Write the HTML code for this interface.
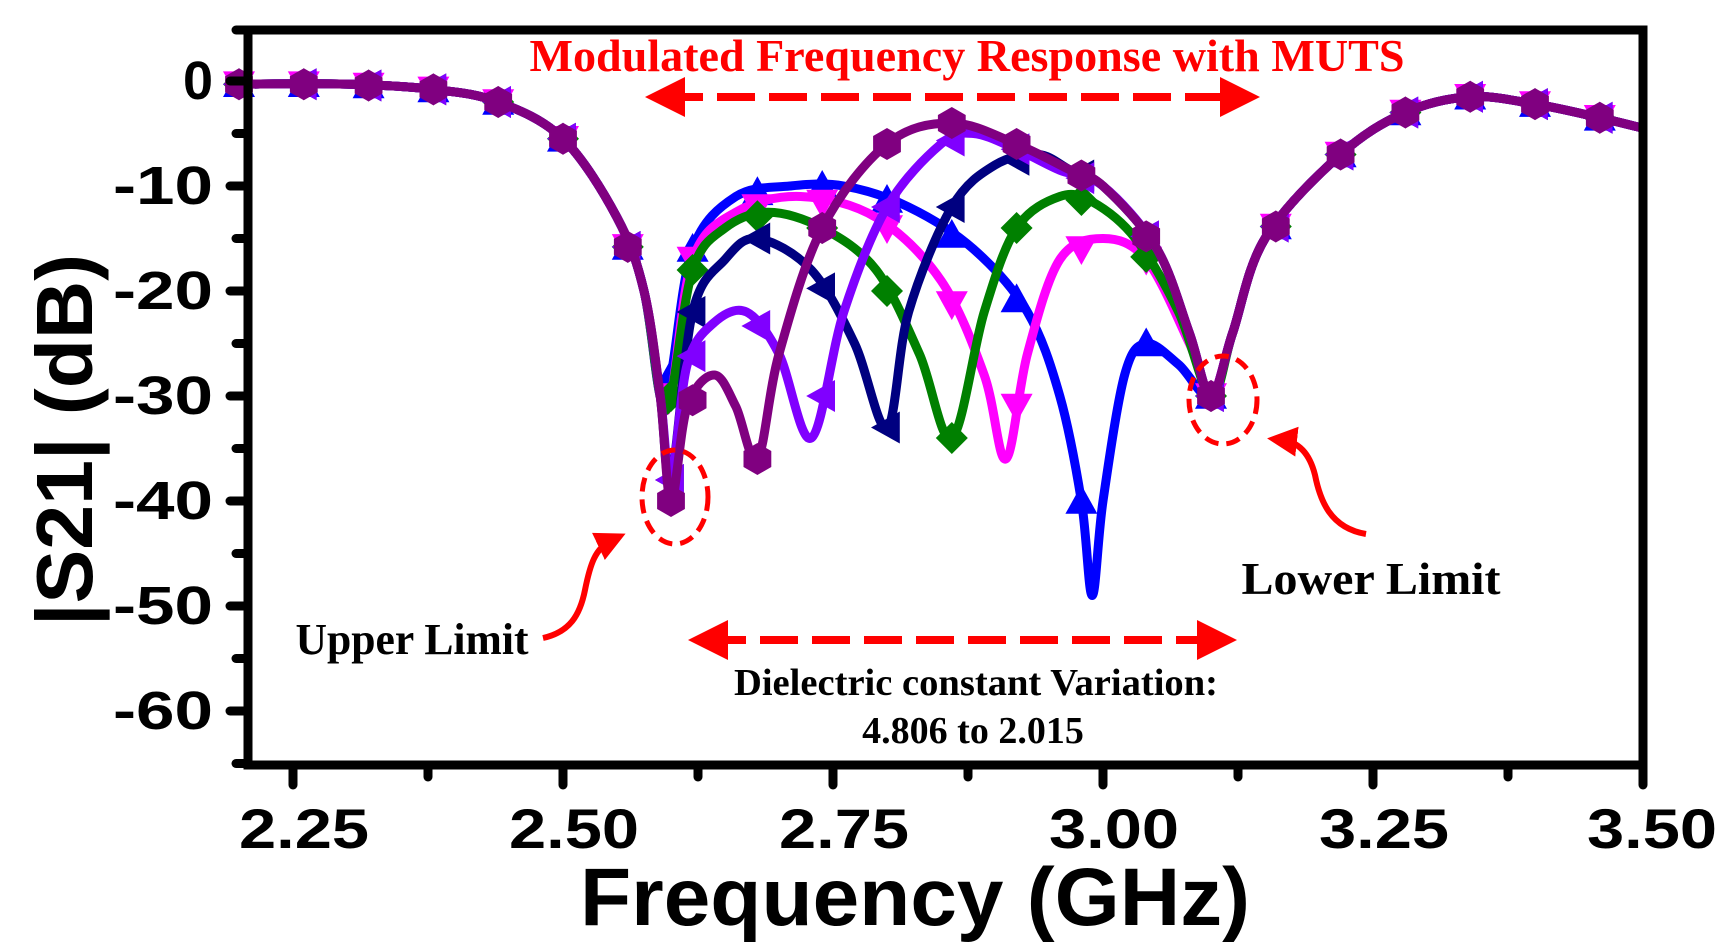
<!DOCTYPE html>
<html><head><meta charset="utf-8"><style>
html,body{margin:0;padding:0;background:#fff}
svg{display:block}
.tk{font-family:"Liberation Sans",Arial,sans-serif;font-weight:bold}
.sr{font-family:"Liberation Serif",serif;font-weight:bold}
</style></head><body>
<svg id="s" width="1735" height="951" viewBox="0 0 1735 951" xmlns="http://www.w3.org/2000/svg">
<defs>
<marker id="ah" viewBox="0 0 10 10" refX="5" refY="5" markerWidth="5" markerHeight="5" orient="auto-start-reverse"><path d="M0,0 L10,5 L0,10 z" fill="#ff0000"/></marker>
</defs>
<g id="curves"></g>
<rect x="248" y="30" width="1395" height="735" fill="none" stroke="#000" stroke-width="9"/>
<g id="ticks" stroke="#000" stroke-width="9" stroke-linecap="round"></g>
<g class="tk" font-size="54" text-anchor="end" fill="#000">
<text x="213" y="99">0</text>
<text x="213" y="204" textLength="100" lengthAdjust="spacingAndGlyphs">-10</text>
<text x="213" y="309" textLength="100" lengthAdjust="spacingAndGlyphs">-20</text>
<text x="213" y="414" textLength="100" lengthAdjust="spacingAndGlyphs">-30</text>
<text x="213" y="519" textLength="100" lengthAdjust="spacingAndGlyphs">-40</text>
<text x="213" y="624" textLength="100" lengthAdjust="spacingAndGlyphs">-50</text>
<text x="213" y="729" textLength="100" lengthAdjust="spacingAndGlyphs">-60</text>
</g>
<g class="tk" font-size="56" text-anchor="middle" fill="#000">
<text x="304" y="848" textLength="130" lengthAdjust="spacingAndGlyphs">2.25</text>
<text x="574" y="848" textLength="130" lengthAdjust="spacingAndGlyphs">2.50</text>
<text x="844" y="848" textLength="130" lengthAdjust="spacingAndGlyphs">2.75</text>
<text x="1114" y="848" textLength="130" lengthAdjust="spacingAndGlyphs">3.00</text>
<text x="1384" y="848" textLength="130" lengthAdjust="spacingAndGlyphs">3.25</text>
<text x="1652" y="848" textLength="130" lengthAdjust="spacingAndGlyphs">3.50</text>
</g>
<text class="tk" x="915" y="925" font-size="82" text-anchor="middle" textLength="670" lengthAdjust="spacingAndGlyphs">Frequency (GHz)</text>
<text class="tk" transform="translate(92,440) rotate(-90)" font-size="80" text-anchor="middle" textLength="372" lengthAdjust="spacingAndGlyphs">|S21| (dB)</text>
<g class="sr" fill="#ff0000" font-size="46" text-anchor="middle"><text x="967" y="71" textLength="875" lengthAdjust="spacingAndGlyphs">Modulated Frequency Response with MUTS</text></g>
<g class="sr" fill="#000" font-size="38" text-anchor="middle">
<text x="976" y="695" textLength="484" lengthAdjust="spacingAndGlyphs">Dielectric constant Variation:</text>
<text x="973" y="743">4.806 to 2.015</text>
<text x="412" y="654" font-size="44" textLength="233" lengthAdjust="spacingAndGlyphs">Upper Limit</text>
<text x="1371" y="594" font-size="46" textLength="259" lengthAdjust="spacingAndGlyphs">Lower Limit</text>
</g>
<g stroke="#ff0000" stroke-width="8" fill="none">
<line x1="665" y1="97" x2="1240" y2="97" stroke-dasharray="38,14" marker-start="url(#ah)" marker-end="url(#ah)"/>
<line x1="708" y1="640" x2="1217" y2="640" stroke-dasharray="38,14" marker-start="url(#ah)" marker-end="url(#ah)"/>
<ellipse cx="675" cy="497" rx="33" ry="47" stroke-width="5" stroke-dasharray="14,8"/>
<ellipse cx="1223" cy="400" rx="34" ry="44" stroke-width="5" stroke-dasharray="14,8"/>
<path d="M543,638 C570,632 580,615 585,590 C590,565 595,548 612,540" stroke-width="6" marker-end="url(#ah)"/>
<path d="M1366,534 C1330,528 1320,500 1315,475 C1310,455 1300,442 1282,440" stroke-width="6" marker-end="url(#ah)"/>
</g>
</svg>
<script>
var X=f=>1643-(3.5-f)*1080, Y=d=>81-d*10.5;
var L=[[2.2,-0.3],[2.3,-0.3],[2.38,-0.8],[2.44,-2],[2.5,-5.5],[2.55,-13],[2.575,-20],[2.59,-30]];
var R=[[3.12,-24],[3.15,-15],[3.22,-7],[3.28,-3],[3.34,-1.5],[3.4,-2.2],[3.46,-3.5],[3.5,-4.5]];
var RC=[[3.0,-10],[3.05,-16],[3.08,-24],[3.1,-30]];
var C=[
["#0000ff","tu",[[2.6,-28],[2.62,-16],[2.66,-11],[2.71,-10],[2.76,-10],[2.82,-12],[2.88,-16],[2.93,-22],[2.96,-30],[2.98,-40],[2.99,-49],[3.0,-40],[3.02,-28],[3.04,-25],[3.07,-27],[3.1,-30]]],
["#ff00ff","td",[[2.6,-30],[2.62,-17],[2.66,-12.5],[2.72,-11],[2.79,-13],[2.85,-19],[2.89,-28],[2.91,-36],[2.93,-26],[2.96,-17],[3.0,-15],[3.04,-17],[3.08,-25],[3.1,-30]]],
["#008000","dm",[[2.6,-30],[2.62,-18],[2.65,-14],[2.69,-12.5],[2.74,-14],[2.79,-18],[2.83,-26],[2.86,-34],[2.89,-22],[2.92,-14],[2.96,-11],[2.99,-11.5],[3.03,-15],[3.07,-22],[3.1,-30]]],
["#000080","tl",[[2.6,-38],[2.62,-22],[2.65,-17],[2.68,-15],[2.73,-18],[2.77,-25],[2.8,-33],[2.82,-22],[2.86,-12],[2.9,-8],[2.94,-7],[2.97,-8.5]].concat(RC)],
["#8000ff","tl",[[2.6,-38],[2.615,-27],[2.64,-23],[2.67,-22],[2.7,-26],[2.73,-34],[2.76,-22],[2.8,-12],[2.85,-6],[2.88,-5],[2.92,-6.5],[2.96,-8.5]].concat(RC)],
["#800080","hx",[[2.6,-40],[2.615,-31],[2.64,-28],[2.66,-31],[2.68,-36],[2.7,-26],[2.74,-14],[2.8,-6],[2.86,-4],[2.92,-6],[2.97,-8.5]].concat(RC)]
];
function path(p){var s="M"+p[0][0]+","+p[0][1];for(var i=0;i<p.length-1;i++){var a=p[i-1]||p[i],b=p[i],c=p[i+1],d=p[i+2]||c;
s+=" C"+(b[0]+(c[0]-a[0])/6)+","+(b[1]+(c[1]-a[1])/6)+" "+(c[0]-(d[0]-b[0])/6)+","+(c[1]-(d[1]-b[1])/6)+" "+c[0]+","+c[1];}return s;}
function mk(t,x,y,col){var r=16;var p;
if(t=="tu")p=[[x,y-r],[x+r,y+r*0.8],[x-r,y+r*0.8]];
else if(t=="td")p=[[x,y+r],[x+r,y-r*0.8],[x-r,y-r*0.8]];
else if(t=="tl")p=[[x-r,y],[x+r*0.8,y-r],[x+r*0.8,y+r]];
else if(t=="dm")p=[[x,y-r],[x+r,y],[x,y+r],[x-r,y]];
else {p=[];for(var k=0;k<6;k++){var a=Math.PI/6+k*Math.PI/3;p.push([x+r*Math.cos(a),y+r*Math.sin(a)]);}}
return '<polygon fill="'+col+'" points="'+p.map(q=>q[0].toFixed(1)+","+q[1].toFixed(1)).join(" ")+'"/>';}
var h="";
var MF=[2.2,2.26,2.32,2.38,2.44,2.5,2.56,2.6];
C.forEach(function(c){var pts=L.concat(c[2]).concat(R).map(q=>[X(q[0]),Y(q[1])]);
h+='<path d="'+path(pts)+'" fill="none" stroke="'+c[0]+'" stroke-width="9" stroke-linejoin="round"/>';
var all=L.concat(c[2]).concat(R);
var mf=MF.concat([]);for(var f=2.62;f<3.5;f+=0.06)mf.push(+f.toFixed(3));
mf.forEach(function(f){var i=0;while(i<all.length-1&&all[i+1][0]<f)i++;var a=all[i],b=all[Math.min(i+1,all.length-1)];var t=b[0]==a[0]?0:(f-a[0])/(b[0]-a[0]);var d=a[1]+(b[1]-a[1])*Math.max(0,Math.min(1,t));h+=mk(c[1],X(f),Y(d),c[0]);});});
document.getElementById("curves").innerHTML=h;
var t="";
for(var d=0;d>=-65;d-=5){var y=Y(d);var l=d%10==0?18:12;t+='<line x1="248" y1="'+y+'" x2="'+(248-l)+'" y2="'+y+'"/>';}
for(var f=2.25;f<=3.5001;f+=0.125){var x=X(f);var maj=Math.abs((f-2.25)/0.25-Math.round((f-2.25)/0.25))<0.01;t+='<line x1="'+x+'" y1="765" x2="'+x+'" y2="'+(765+(maj?20:12))+'"/>';}
t+='<line x1="248" y1="30" x2="236" y2="30"/>';
document.getElementById("ticks").innerHTML=t;
</script>
</body></html>
